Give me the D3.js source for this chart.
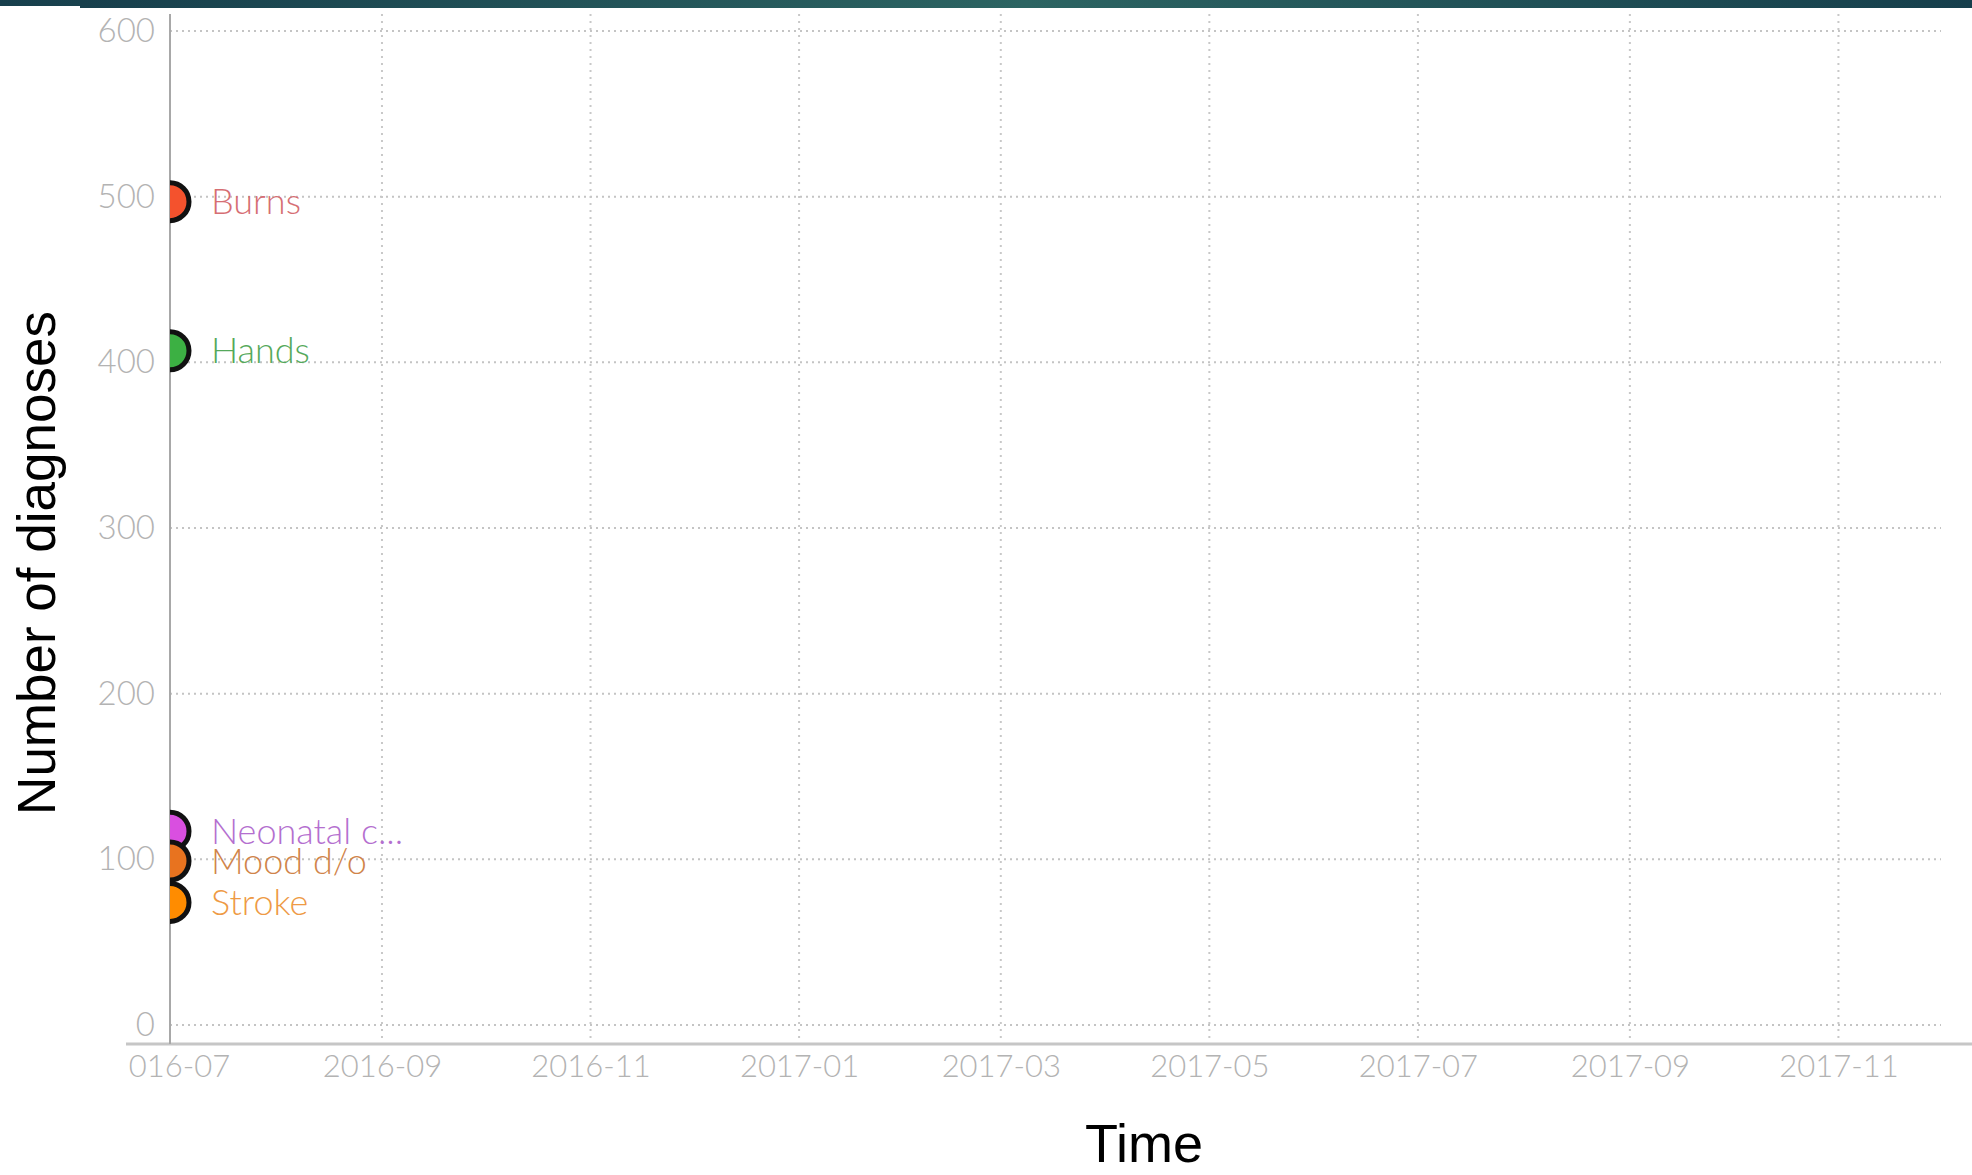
<!DOCTYPE html>
<html>
<head>
<meta charset="utf-8">
<script src="https://cdn.jsdelivr.net/npm/d3@7"></script>
<style>
  html, body { margin: 0; padding: 0; background: #ffffff; }
  svg { display: block; }
</style>
</head>
<body>
<svg id="chart" width="1972" height="1175"></svg>
<script>
// ---- data ----
const categories = ["Burns", "Hands", "Neonatal c...", "Mood d/o", "Stroke"];
const diagnoses = [497, 407, 117, 99, 74];
const observedMonth = ["2016-07", "2016-07", "2016-07", "2016-07", "2016-07"];
const yTicks = [0, 100, 200, 300, 400, 500, 600];
const xTickLabels = ["2016-07", "2016-09", "2016-11", "2017-01", "2017-03", "2017-05", "2017-07", "2017-09", "2017-11"];
const xDomain = ["2016-07", "2017-12"];

// ---- styles ----
const fillColors = ["#f4522d", "#3cb043", "#d94fe0", "#e8731f", "#ff8c00"];
const textColors = ["#d66e73", "#55a95b", "#b46fcf", "#d0844a", "#ee9a45"];

const svg = d3.select("#chart");
const defs = svg.append("defs");
const parse = d3.utcParse("%Y-%m");
const fmt = d3.utcFormat("%Y-%m");

const plotLeft = 170, plotTop = 14, plotBottom = 1044, gridRight = 1941;

const x = d3.scaleUtc().domain(xDomain.map(parse)).range([plotLeft, 1941]);
const y = d3.scaleLinear().domain([0, 600]).range([1025, 31]);

// top banner
const grad = defs.append("linearGradient").attr("id", "band").attr("x1", "0").attr("x2", "1");
grad.append("stop").attr("offset", "0").attr("stop-color", "#173f4c");
grad.append("stop").attr("offset", "0.5").attr("stop-color", "#2c6462");
grad.append("stop").attr("offset", "1").attr("stop-color", "#163f4c");
svg.append("rect").attr("x", 0).attr("y", 0).attr("width", 1972).attr("height", 6).attr("fill", "url(#band)");
svg.append("rect").attr("x", 80).attr("y", 0).attr("width", 1892).attr("height", 8).attr("fill", "url(#band)");

// grid
const grid = svg.append("g");
grid.selectAll("line.h").data(yTicks).join("line")
  .attr("x1", plotLeft).attr("x2", gridRight)
  .attr("y1", d => y(d)).attr("y2", d => y(d))
  .attr("stroke", "#c4c4c4").attr("stroke-width", 2).attr("stroke-dasharray", "2,4");
grid.selectAll("line.v").data(xTickLabels.slice(1).map(parse)).join("line")
  .attr("x1", d => x(d)).attr("x2", d => x(d))
  .attr("y1", plotTop).attr("y2", plotBottom)
  .attr("stroke", "#c8c8c8").attr("stroke-width", 2).attr("stroke-dasharray", "2,5");

// axes
const tickFont = "Lato, 'Open Sans', sans-serif";
const yAxis = d3.axisLeft(y).tickValues(yTicks).tickSize(0).tickPadding(15);
const yg = svg.append("g").attr("transform", `translate(${plotLeft},0)`).call(yAxis);
yg.select(".domain").remove();
yg.selectAll("text").attr("font-family", tickFont).attr("font-weight", 300)
  .attr("font-size", 33).attr("fill", "#b3b3b3");

defs.append("clipPath").attr("id", "xclip")
  .append("rect").attr("x", 129).attr("y", 1040).attr("width", 1843).attr("height", 90);
const xAxis = d3.axisBottom(x).tickValues(xTickLabels.map(parse)).tickFormat(fmt).tickSize(0).tickPadding(11);
const xg = svg.append("g").attr("clip-path", "url(#xclip)")
  .append("g").attr("transform", `translate(0,${plotBottom})`).call(xAxis);
xg.select(".domain").remove();
xg.selectAll("text").attr("font-family", tickFont).attr("font-weight", 300)
  .attr("font-size", 31).attr("fill", "#b3b3b3");

svg.append("line").attr("x1", 126).attr("x2", 1972).attr("y1", plotBottom).attr("y2", plotBottom)
  .attr("stroke", "#c6c6c6").attr("stroke-width", 3);
svg.append("line").attr("x1", plotLeft).attr("x2", plotLeft).attr("y1", plotTop).attr("y2", plotBottom)
  .attr("stroke", "#a8a8a8").attr("stroke-width", 2);

// points (clipped to plot area, so only right half shows)
defs.append("clipPath").attr("id", "plotclip")
  .append("rect").attr("x", plotLeft).attr("y", 0).attr("width", 1972 - plotLeft).attr("height", plotBottom);
const pts = categories.map((c, i) => ({ c, v: diagnoses[i], t: parse(observedMonth[i]), i }));
svg.append("g").attr("clip-path", "url(#plotclip)")
  .selectAll("circle").data(pts).join("circle")
  .attr("cx", d => x(d.t)).attr("cy", d => y(d.v)).attr("r", 19)
  .attr("fill", d => fillColors[d.i]).attr("stroke", "#111").attr("stroke-width", 5);

svg.append("g").selectAll("text").data(pts).join("text")
  .attr("x", d => x(d.t) + 41).attr("y", d => y(d.v))
  .attr("dy", "0.35em")
  .attr("font-family", tickFont).attr("font-weight", 300)
  .attr("font-size", 36).attr("fill", d => textColors[d.i])
  .text(d => d.c);

// axis titles
svg.append("text").attr("x", 1144).attr("y", 1162).attr("text-anchor", "middle")
  .attr("font-family", "'Liberation Sans', Arial, sans-serif").attr("font-size", 54).attr("fill", "#000")
  .text("Time");
svg.append("text").attr("transform", "translate(55,563) rotate(-90)").attr("text-anchor", "middle")
  .attr("font-family", "'Liberation Sans', Arial, sans-serif").attr("font-size", 53).attr("fill", "#000")
  .text("Number of diagnoses");
</script>
</body>
</html>
